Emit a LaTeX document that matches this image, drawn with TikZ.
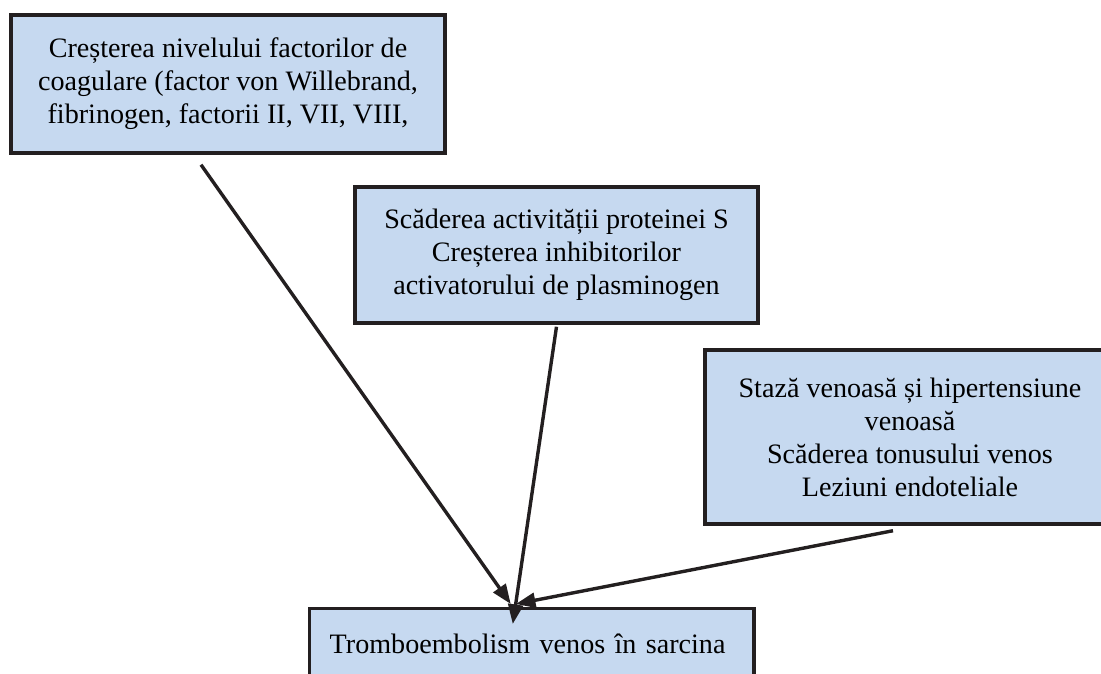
\documentclass[tikz,border=0pt]{standalone}
\usepackage{fontspec}
\setmainfont{Liberation Serif}
\usetikzlibrary{arrows.meta,calc}
\definecolor{boxblue}{RGB}{198,217,240}
\definecolor{boxline}{RGB}{35,31,32}

\begin{document}
\begin{tikzpicture}[x=0.025cm, y=-0.025cm,
		box/.style={draw=boxline, fill=boxblue, line width=0.85mm, rectangle, align=center, inner sep=0pt, font=\fontsize{20}{23.5}\selectfont},
		arr/.style={draw=boxline, line width=0.85mm, -{Triangle[length=14pt, width=10.5pt]}}]
			%%%%% START %%%%%
			
			\useasboundingbox (0, 0) rectangle (1101, 673);
			\clip (0, 0) rectangle (1101, 673);
			
			\node[box, minimum width=10.85cm, minimum height=3.45cm] (factori) at (228, 84) {Creșterea nivelului factorilor de\\coagulare (factor von Willebrand,\\fibrinogen, factorii II, VII, VIII,};
			
			\node[box, minimum width=10.075cm, minimum height=3.4cm] (scadere) at (556.5, 255) {Scăderea activității proteinei S\\Creșterea inhibitorilor\\activatorului de plasminogen};
			
			\node[box, minimum width=10.25cm, minimum height=4.35cm] (staza) at (910, 437) {Stază venoasă și hipertensiune\\venoasă\\Scăderea tonusului venos\\Leziuni endoteliale};
			
			\node[box, anchor=north west, align=left, text width=10.1cm, inner xsep=0.5cm, inner ysep=18pt, text depth=2cm] (sarcina) at (308, 607) {Tromboembolism venos în sarcina};
			
			\draw[arr] ($(factori.south)+(-27, 10)$) -- ($(sarcina.north)+(-21, -3)$);
			\draw[arr] ($(scadere.south)+(0, 2)$) -- ($(sarcina.north)+(-19, 17)$);
			\draw[arr] ($(staza.south)+(-17, 5)$) -- ($(sarcina.north)+(-16, -3)$);
			
			%%%%% END %%%%%
\end{tikzpicture}
\end{document}
